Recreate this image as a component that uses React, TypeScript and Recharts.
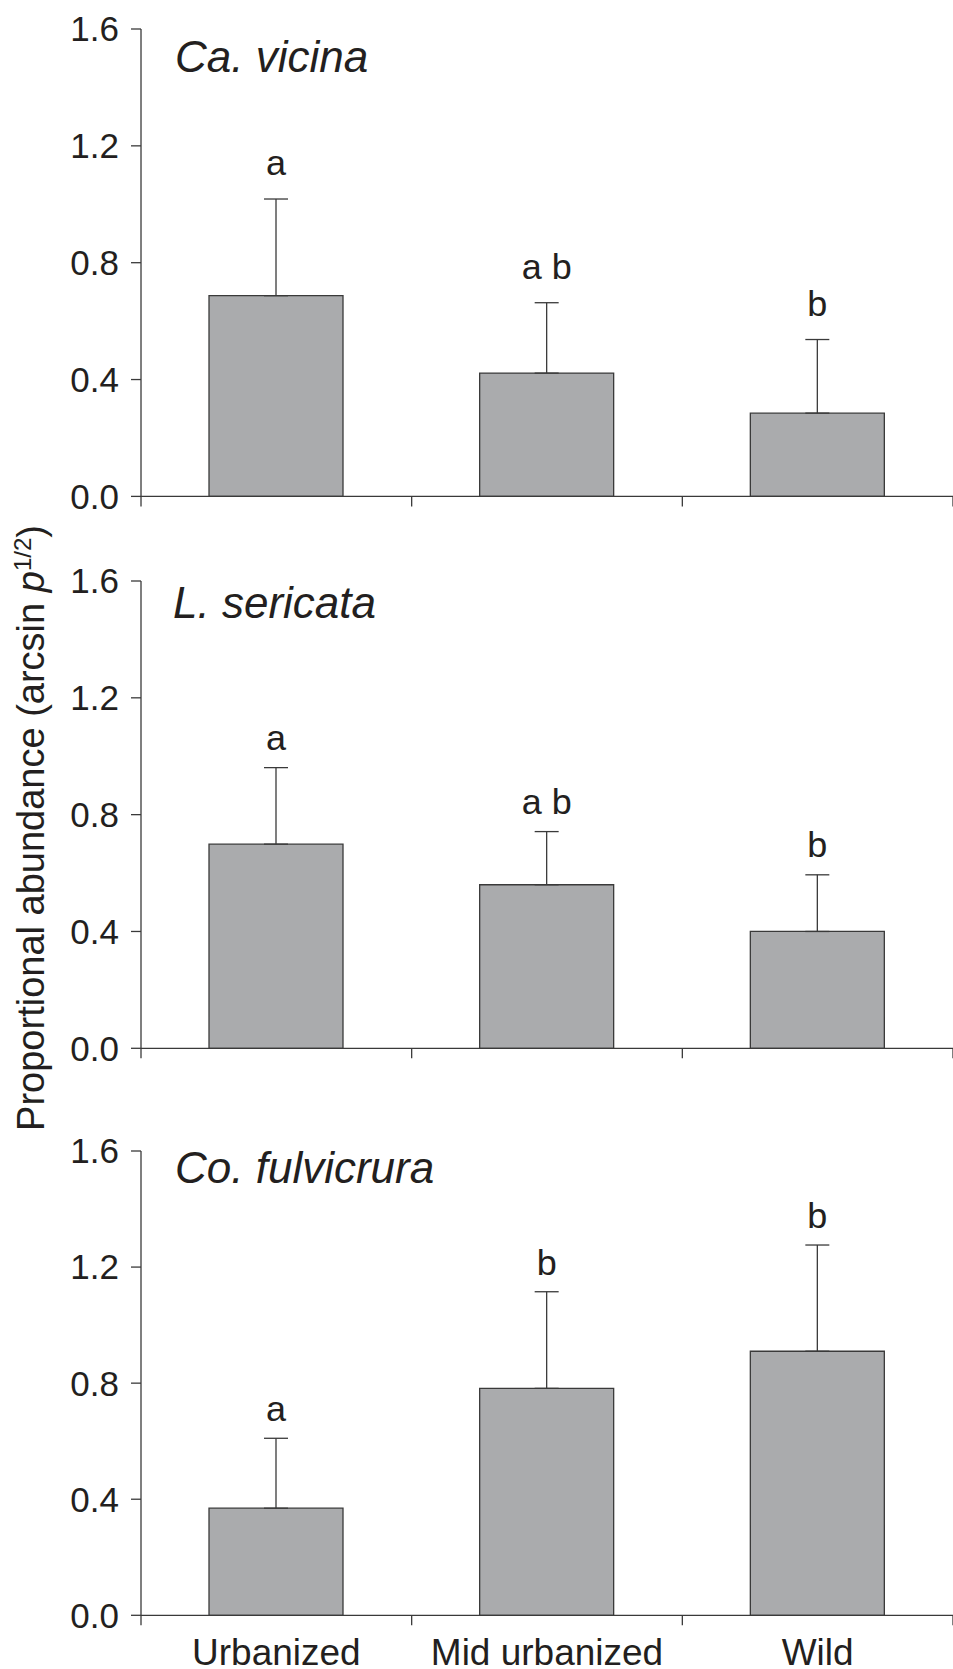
import React from "react";
import { BarChart, Bar, XAxis, YAxis, ErrorBar, LabelList } from "recharts";

// categories and tick values
const sites = ["Urbanized", "Mid urbanized", "Wild"];
const yTicks = [0, 0.4, 0.8, 1.2, 1.6];
const species = ["Ca. vicina", "L. sericata", "Co. fulvicrura"];

// Ca. vicina
const vicinaMean = [0.687, 0.422, 0.285];
const vicinaErr = [0.331, 0.241, 0.252];
const vicinaLetters = ["a", "a b", "b"];

// L. sericata
const sericataMean = [0.699, 0.56, 0.4];
const sericataErr = [0.262, 0.182, 0.194];
const sericataLetters = ["a", "a b", "b"];

// Co. fulvicrura
const fulviMean = [0.369, 0.782, 0.91];
const fulviErr = [0.241, 0.333, 0.366];
const fulviLetters = ["a", "b", "b"];

const FONT = '"Liberation Sans", Arial, Helvetica, sans-serif';
const INK = "#231f20";
const AXIS = "#3a3a3a";
const BAR = "#aaabad";

const TICK = 10;
const X_MARGIN = 13;
const MT = 20;

// tick lines sit on the category borders, labels in the middle
const SiteTick = (props: any) => {
  const { x, y, payload, index, visibleTicksCount, showLabel, width } = props;
  const half =
    typeof payload?.offset === "number" && payload.offset > 0
      ? payload.offset
      : width / (2 * visibleTicksCount);
  const axisY = y - TICK - X_MARGIN;
  return (
    <g>
      <line x1={x - half} x2={x - half} y1={axisY} y2={axisY + TICK} stroke={AXIS} strokeWidth={1.3} />
      {index === visibleTicksCount - 1 && (
        <line x1={x + half} x2={x + half} y1={axisY} y2={axisY + TICK} stroke={AXIS} strokeWidth={1.3} />
      )}
      {showLabel && (
        <text x={x} y={y} dy="0.71em" textAnchor="middle" fontSize={37} fontFamily={FONT} fill={INK}>
          {payload.value}
        </text>
      )}
    </g>
  );
};

type PanelProps = {
  top: number;
  plotH: number;
  axisH: number;
  mean: number[];
  err: number[];
  letters: string[];
  gap: number;
  showLabels: boolean;
};

const Panel = ({ top, plotH, axisH, mean, err, letters, gap, showLabels }: PanelProps) => {
  const data = sites.map((site, i) => ({
    site,
    mean: mean[i],
    err: [0, err[i]],
    letter: letters[i],
  }));

  const renderLetter = (p: any) => {
    const vb = p.viewBox && typeof p.viewBox.height === "number" ? p.viewBox : p;
    const { x, y, width, height } = vb;
    const perUnit = Math.abs(height) / mean[p.index];
    const errTop = y - err[p.index] * perUnit;
    return (
      <text x={x + width / 2} y={errTop - gap} textAnchor="middle" fontSize={36} fontFamily={FONT} fill={INK}>
        {p.value}
      </text>
    );
  };

  return (
    <div style={{ position: "absolute", left: 0, top: top - MT }}>
      <BarChart
        width={953}
        height={MT + plotH + axisH}
        data={data}
        margin={{ top: MT, right: 0, bottom: 0, left: 0 }}
      >
        <XAxis
          dataKey="site"
          height={axisH}
          interval={0}
          axisLine={{ stroke: AXIS, strokeWidth: 1.3 }}
          tickLine={false}
          tickSize={TICK}
          tickMargin={X_MARGIN}
          tick={(p: any) => <SiteTick {...p} showLabel={showLabels} />}
        />
        <YAxis
          type="number"
          width={141}
          domain={[0, 1.6]}
          ticks={yTicks}
          interval={0}
          allowDataOverflow
          tickFormatter={(v: number) => v.toFixed(1)}
          axisLine={{ stroke: AXIS, strokeWidth: 1.3 }}
          tickLine={{ stroke: AXIS, strokeWidth: 1.3 }}
          tickSize={10}
          tickMargin={12}
          tick={{ fill: INK, fontSize: 35, fontFamily: FONT }}
        />
        <Bar dataKey="mean" fill={BAR} stroke={AXIS} strokeWidth={1.3} barSize={134} isAnimationActive={false}>
          <ErrorBar dataKey="err" direction="y" width={12} stroke={AXIS} strokeWidth={1.3} />
          <LabelList dataKey="letter" content={renderLetter} />
        </Bar>
      </BarChart>
    </div>
  );
};

export default function App() {
  return (
    <div style={{ position: "absolute", left: 0, top: 0, width: 953, height: 1669, background: "#fff" }}>
      <Panel top={29.3} plotH={467.4} axisH={30} mean={vicinaMean} err={vicinaErr} letters={vicinaLetters} gap={24} showLabels={false} />
      <Panel top={581} plotH={467.3} axisH={30} mean={sericataMean} err={sericataErr} letters={sericataLetters} gap={18} showLabels={false} />
      <Panel top={1150.7} plotH={464.3} axisH={54} mean={fulviMean} err={fulviErr} letters={fulviLetters} gap={17} showLabels />

      <svg width={953} height={1669} style={{ position: "absolute", left: 0, top: 0, pointerEvents: "none" }}>
        <g fontFamily={FONT} fill={INK} fontStyle="italic" fontSize={44}>
          <text x={175} y={72}>{species[0]}</text>
          <text x={173} y={618}>{species[1]}</text>
          <text x={175} y={1183}>{species[2]}</text>
        </g>
        <text
          transform="translate(44, 828) rotate(-90)"
          textAnchor="middle"
          fontFamily={FONT}
          fontSize={38}
          fill={INK}
        >
          Proportional abundance (arcsin <tspan fontStyle="italic">p</tspan>
          <tspan fontSize={24} dy={-13}>1/2</tspan>
          <tspan dy={13}>)</tspan>
        </text>
      </svg>
    </div>
  );
}
